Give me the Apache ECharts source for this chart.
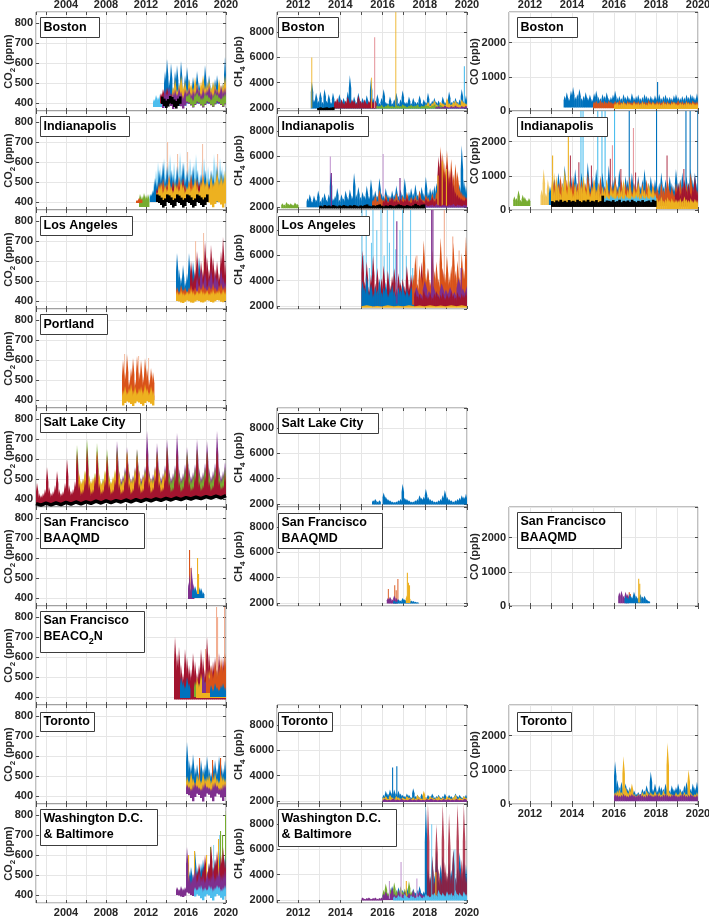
<!DOCTYPE html>
<html><head><meta charset="utf-8">
<script src="https://cdn.jsdelivr.net/npm/echarts@6/dist/echarts.min.js"></script>
<style>html,body{margin:0;padding:0;background:#fff}#c{width:709px;height:916px}</style>
</head><body><div id="c"></div><script>
// ================= DATA =================
// each band: t0 = first year, dt = step (yr), hi = peak values, lo = lower values (step ldt), sp = single spikes [year, value]
// ---- CO2 (ppm) ----
const bos_co2_L  = {t0:2012.7, dt:0.2, lo:[380], hi:[420,440,430,445,435,430]};
const bos_co2_B  = {t0:2013.8, dt:0.2, lo:[398], hi:[560,620,520,600,480,560,590,500,610,470,540,580,520,470,530,490,560,500,470,520,590,510,540,480,500,520,540,490,470,500,630]};
const bos_co2_L2 = {t0:2015.2, dt:0.2, lo:[385], hi:[440,455,430,445]};
const bos_co2_R  = {t0:2013.4, dt:0.2, lo:[398], hi:[450,470,440,480,460,450,430]};
const bos_co2_Y  = {t0:2014.6, dt:0.2, lo:[410], hi:[480,520,470,500,540,490,510,470,520,500,480,530,500,470,510,540,490,500,520,480,510,500,470,520,490,500,540]};
const bos_co2_P  = {t0:2013.6, dt:0.2, ldt:0.2, lo:[375,388,400,396,385,370,386,398,395,384,372,388,400,396,388,378,390,400,397,388,378,390,401,397,389,380,392,402,398,390,380,393], hi:[440,470,450,480,440,460,470,450,480,460,440,470,460,480,450,470,460,490,470,450,480,460,470,490,460,450,480,470,460,490,470,480]};
const bos_co2_G  = {t0:2016.0, dt:0.2, ldt:0.2, lo:[408,402,392,380,395,408,403,392,382,396,409,404,393,382,397,410,405,394,384,398], hi:[440,450,430,420,445,455,440,425,430,450,445,430,420,440,455,445,430,425,440,450]};
const bos_co2_K  = {t0:2013.5, dt:0.2, ldt:0.2, lo:[395,385,375,382,398,394,380,372,385,396], hi:[432,422,412,420,435,430,418,410,422,433]};

const ind_co2_O1 = {t0:2011.0, dt:0.2, lo:[395], hi:[410,420,415]};
const ind_co2_G  = {t0:2011.3, dt:0.2, lo:[375], hi:[440,430,445,435,440]};
const ind_co2_L  = {t0:2012.3, dt:0.2, lo:[400], hi:[440,450,500,560,600,580,560,620,540,600,640,560,600,520,580,650,560,600,540,580,620,560,600,640,560,540,600,620,560,580,520,560,640,600,560,620,580,560,600]};
const ind_co2_B  = {t0:2012.4, dt:0.2, lo:[400], hi:[440,460,520,500,560,540,600,520,580,500,560,540,520,580,500,540,600,520,560,500,540,580,520,560,500,540,520,560,500,520,560,540,500,580,520,560,540,500,560]};
const ind_co2_O  = {t0:2013.0, dt:0.2, lo:[405], hi:[460,500,480,520,470,500,540,480,510,470,500,530,480,520,490,470,510,540,490,500,520,480,510,540,490,500,470,520,490,500,540,480,510,490,520]};
const ind_co2_R  = {t0:2013.0, dt:0.2, lo:[405], hi:[470,440,500,460,430,480,450,470,500,460,440,480,460,520,470,450,490,460,480,450,470,500,460,480,450,470,490,460,480,450,500,470,460,490,470]};
const ind_co2_Y  = {t0:2013.0, dt:0.2, lo:[410], hi:[450,480,500,460,490,470,520,480,460,500,480,470,510,490,460,480,500,470,490,520,480,460,500,530,500,520,480,540,500,520,560,500,540,520,560]};
const ind_co2_Y2 = {t0:2017.8, dt:0.2, ldt:0.2, lo:[392,402,398,386,374,390,403,399,387,372,392], hi:[460,480,470,500,480,470,490,510,480,470,500]};
const ind_co2_K  = {t0:2013.0, dt:0.2, ldt:0.2, lo:[400,395,385,372,380,400,395,385,372,380,400,395,385,372,380,400,395,385,372,380,400,395,385,375,385,400], hi:[438,432,422,410,418,438,433,423,410,418,438,432,422,411,419,438,433,423,410,418,438,432,423,413,423,438]};
const ind_co2_pale = {lo:[430], sp:[[2014.1,700],[2015.1,640],[2016.1,650],[2017.6,690],[2019.1,640]]};

const la_co2_B = {t0:2015.0, dt:0.2, lo:[405], hi:[640,560,520,580,500,540,640,560,600,540,520,620,560]};
const la_co2_R = {t0:2016.4, dt:0.2, lo:[420], hi:[600,520,560,650,540,600,560,700,620,560,680,620,560,600,540,650,720,600]};
const la_co2_P = {t0:2017.0, dt:0.2, lo:[430], hi:[520,480,560,500,540,480,520,560,500,540,520,480,560,520,500]};
const la_co2_O = {t0:2015.0, dt:0.2, lo:[415], hi:[470,450,480,460,470,450,470,480,460,470,450,480,470,490,470,460,480,470,490,470,460,480,490,470,480]};
const la_co2_Y = {t0:2015.0, dt:0.2, ldt:0.2, lo:[400,398,392,390,396,402,399,393,391,397,403,400,394,392,398,404,401,395,393,399,405,402,396,394,400], hi:[450,440,455,445,440,450,445,460,450,440,455,445,460,450,445,455,440,450,460,445,450,455,445,460,450]};
const la_co2_pale = {lo:[450], sp:[[2017.7,740],[2016.9,700]]};

const por_co2_O = {t0:2009.6, dt:0.2, lo:[400], hi:[600,540,630,500,560,610,500,620,540,600,520,610,560,500,560,540]};
const por_co2_Y = {t0:2009.6, dt:0.2, ldt:0.2, lo:[372,385,392,388,380,370,384,393,388,380,371,385,394,389,381,372], hi:[450,470,440,460,480,450,470,440,460,470,450,480,460,440,470,450]};
const por_co2_pale = {lo:[450], sp:[[2009.8,630],[2011.2,620],[2012.2,610]]};

const slc_co2_P = {t0:2009.0, dt:0.2, lo:[430], hi:[690,540,500,520,560, 660,540,500,520,560, 650,545,505,525,565, 740,545,505,525,565, 680,550,510,530,570, 700,550,510,530,570, 730,550,510,530,575, 660,555,515,535,575, 700,555,515,535,580, 690,555,515,540,580, 740,560,520,540,585]};
const slc_co2_G = {t0:2005.0, dt:0.2, lo:[420], hi:[670,520,480,500,540, 700,520,480,500,530, 680,520,480,505,540, 650,520,485,505,540, 660,525,485,505,545, 640,525,485,510,545, 650,525,490,510,550, 620,525,490,510,550, 640,530,490,515,550, 660,530,495,515,555, 620,530,495,515,555, 640,530,495,520,560, 650,535,500,520,560, 640,535,500,520,560, 630,535,500,525,560]};
const slc_co2_Y = {t0:2005.0, dt:0.2, lo:[420], hi:[600,530,490,505,545, 620,515,495,510,530, 640,530,485,500,545, 600,510,490,515,550, 620,535,480,500,535, 640,515,500,505,555, 620,540,480,515,540, 600,520,505,500,560, 620,535,485,520,545]};
const slc_co2_R = {t0:2001.0, dt:0.2, ldt:1, lo:[372,373,376,378,379,382,385,386,388,390,392,394,397,398,400,403,404,406,409], hi:[480,430,420,430,450, 560,460,430,440,470, 540,450,430,440,480, 600,470,440,450,490, 640,480,440,450,500, 660,480,440,450,510, 640,480,440,450,500, 620,480,440,450,500, 640,480,440,450,510, 630,480,440,455,510, 620,480,445,455,520, 650,490,445,460,520, 640,490,450,460,520, 660,490,450,460,520, 650,490,450,465,520, 620,490,455,465,520, 650,490,455,470,520, 640,490,455,470,525, 660,495,460,470,530]};
const slc_co2_K = [377,369,379,371,380,372,383,374,385,376,386,378,389,380,391,382,392,385,395,386,397,388,398,391,401,393,403,395,405,397,407,400,409,402,412,404,414,406,417];

const sfb_co2_P = {t0:2016.2, dt:0.1, lo:[395], hi:[480,520,450,560,500,470]};
const sfb_co2_O = {lo:[420], sp:[[2016.3,640],[2016.45,550]]};
const sfb_co2_B = {t0:2016.6, dt:0.2, lo:[400], hi:[450,460,440,455,450,430]};
const sfb_co2_Y = {lo:[420], sp:[[2017.1,600],[2017.2,520]]};

const sfc_co2_R  = {t0:2014.8, dt:0.2, lo:[388], hi:[700,620,650,560,520,640,600,560,540,620,580,520,560,640,600,540,700,620,560,580,600,540,620,560,600,580]};
const sfc_co2_B  = {t0:2015.4, dt:0.2, lo:[395], hi:[500,480,460,500,470]};
const sfc_co2_B2 = {t0:2018.4, dt:0.2, lo:[400], hi:[460,440,470,450,440,460,470,450]};
const sfc_co2_G  = {t0:2016.8, dt:0.2, lo:[400], hi:[480,460,470,500,470,480,460,500,470,480,510,470,480,500,470,480]};
const sfc_co2_Y  = {t0:2017.0, dt:0.2, lo:[395], hi:[500,470,520,490,460,520,540,490,470,500,530,480,510,540,500]};
const sfc_co2_P  = {t0:2017.6, dt:0.2, lo:[420], hi:[520,480,540,500,530,480,540,510,560,500,530,550]};
const sfc_co2_O  = {t0:2018.0, dt:0.2, lo:[420], hi:[540,500,560,520,580,530,560,600,560,620]};
const sfc_co2_pale = {lo:[450], sp:[[2019.0,850],[2019.1,800],[2019.8,850],[2017.9,640]]};

const tor_co2_B = {t0:2016.0, dt:0.2, lo:[420], hi:[670,580,560,610,540,560,520,580,540,560,600,540,520,560,580,540,600,560,540,580]};
const tor_co2_O = {lo:[440], sp:[[2017.3,590],[2018.6,580],[2019.4,590]]};
const tor_co2_Y = {t0:2016.0, dt:0.2, lo:[420], hi:[500,480,520,490,470,510,500,480,520,490,500,510,480,500,520,490,480,510,500,490]};
const tor_co2_P = {t0:2016.0, dt:0.2, ldt:0.2, lo:[410,404,390,374,395,411,405,390,372,396,412,406,391,374,397,413,407,392,375,398], hi:[460,450,440,460,470,455,445,440,460,470,450,445,440,465,470,455,440,445,460,465]};

const was_co2_B = {t0:2016.0, dt:0.2, lo:[420], hi:[560,520,540,500,620,540,520,560,580,540,520,560,600,540,580,560,620,560,540,600]};
const was_co2_R = {t0:2017.0, dt:0.2, lo:[440], hi:[520,560,500,540,600,520,560,650,540,580,620,560,600,640,580]};
const was_co2_P = {t0:2015.0, dt:0.2, ldt:0.2, lo:[400,398,392,390,396,412,408,400,395,404,414,409,401,396,405,415,410,402,397,406,416,411,403,398,407], hi:[440,430,445,435,440,640,500,480,510,540,480,520,490,500,480,520,490,500,530,490,510,540,500,510,530]};
const was_co2_G = {lo:[450], sp:[[2016.0,560],[2018.4,640],[2019.4,720],[2019.6,700],[2019.9,800],[2019.98,820]]};
const was_co2_Y = {lo:[450], sp:[[2016.2,600],[2016.8,620],[2018.0,600],[2019.2,680]]};
const was_co2_L = {t0:2016.8, dt:0.2, ldt:0.2, lo:[392,402,396,384,374,392,403,397,385,373,393,404,398,386,376,394], hi:[440,430,445,450,435,440,430,450,445,435,440,450,445,430,440,450]};
const was_co2_Lp = {lo:[450], sp:[[2019.3,700],[2018.7,650]]};

// ---- CH4 (ppb) ----
const bos_ch4_B = {t0:2012.6, dt:0.1, lo:[1950], hi:[4100,2700,3200,2600,3300,2500,3500,2600,3100,2500, 3200,2600,2500,3100,2600,2800,2400,3300,4600,2600, 2900,2500,3200,2500,2800,2400,3000,2500,4300,2800, 2600,3100,2400,2800,3500,2500,2400,2900,2400,2700, 3200,2400,2700,3400,2500,2500,2900,2400,2800,2500, 2500,3000,2400,2700,2500,3200,2400,2600,2800,2500, 2600,2400,2900,2500,2700,3300,2500,2600,2800,2500, 2700,3500,2600,3000]};
const bos_ch4_Ls = {lo:[2000], sp:[[2019.85,5300]]};
const bos_ch4_R = {t0:2013.7, dt:0.1, lo:[1950], hi:[2600,2800,2500,2700,2400,2600,2900,2500,2700,2600,2400,3000,2600,2500,2700,2400,2600,2800,2500,2600]};
const bos_ch4_Ys = {lo:[2000], sp:[[2012.62,6000],[2015.45,4400],[2016.6,9600]]};
const bos_ch4_pk = {lo:[2000], sp:[[2015.6,7600]]};
const bos_ch4_Y = {t0:2018.0, dt:0.1, lo:[2000], hi:[2300,2500,2200,2400,2600,2300,2200,2500,2400,2300,2800,2400,2300,2500,2600,2400,2300,2700,2500,2400]};
const bos_ch4_G = {t0:2015.7, dt:0.1, lo:[1950], hi:[2200,2150,2250,2100,2200,2300,2150,2200,2100,2250,2200,2150,2300,2200,2100,2200,2250,2150,2200,2300,2100,2200,2150,2250,2200,2100,2200,2300,2150,2200,2250,2100,2200]};
const bos_ch4_P = {t0:2018.5, dt:0.1, lo:[1950], hi:[2100,2150,2050,2100,2200,2100,2050,2150,2100,2200,2100,2050,2150,2100,2200]};
const bos_ch4_K = {t0:2012.9, dt:0.1, lo:[1830], hi:[2000,2050,2000,2020,2050,2000,2030,2050]};

const ind_ch4_G = {t0:2011.2, dt:0.1, lo:[1900], hi:[2300,2200,2400,2250,2300,2200,2350,2250]};
const ind_ch4_B = {t0:2012.4, dt:0.1, lo:[1980], hi:[2700,3000,2500,2900,2600,3300,2500,2800,3100,2600, 3000,4700,2700,2900,3500,2600,3000,2700,3300,2800, 3400,2900,4700,3000,3600,2800,3200,2900,3700,2900, 4200,3000,3300,2900,4300,3100,2900,3500,3000,2900, 3300,3000,3700,2900,3400,3000,4300,3000,3200,3500, 3100,3800,3000,3300,3600,3100,4400,3200,3500,3400, 3700,3900,4300,4000,4600,4100,3700,4400,3500,3800, 4100,3500,3800,6900,4200,3700]};
const ind_ch4_Pp = {lo:[2000], sp:[[2013.5,6000],[2016.0,6200]]};
const ind_ch4_Ps = {lo:[2000], sp:[[2013.55,4700],[2016.8,4300],[2018.7,5200]]};
const ind_ch4_O = {t0:2015.5, dt:0.1, lo:[2050], hi:[2600,2900,2500,3400,2700,2600,3000,2500,2800,2600, 2700,3100,2600,2500,2900,2700,3200,2600,2800,2500, 2900,2600,3300,2700,2600,3000,2800,2600,3100,2700, 3200,4200,6800,6300,5500,6500,5000,5800,4600,5400, 4800,3500,3200,3000,2800]};
const ind_ch4_R = {t0:2016.0, dt:0.1, lo:[2050], hi:[2500,2700,2400,2600,2800,2500,2600,2400,2700,2500, 2600,2800,2500,2400,2700,2600,2500,2800,2600,2400, 2700,2500,2600,2800,2500,2700,6000,6400,5200,4800, 5600,4400,5000,3800,3200,3000,2800,2700,2600,2800]};
const ind_ch4_Ys = {lo:[2100], sp:[[2018.8,5600],[2019.0,5000],[2018.6,4500]]};
const ind_ch4_P = {t0:2018.0, dt:0.1, lo:[1950], hi:[2200,2100,2150,2200,2100,2250,2150,2100,2200,2150,2100,2200,2150,2250,2100,2200,2150,2100,2200,2150]};
const ind_ch4_K = {t0:2013.0, dt:0.1, lo:[1880], hi:[2100,2050,2150,2080,2120,2060,2150,2100,2050,2120, 2080,2150,2100,2060,2130,2090,2150,2100,2050,2120, 2080,2150,2200,2100,2060,2130,2090,2150,2200,2100, 2050,2120,2080,2150,2100,2060,2130,2200,2150,2100, 2080,2150,2100,2060,2130,2250,2150,2100,2180,2200]};

const la_ch4_Lp = {lo:[2000], sp:[[2015.0,9600],[2015.08,6000],[2015.2,9600],[2015.35,5000],[2015.45,7000],[2015.52,9600],[2015.7,8000],[2015.9,9600],[2016.05,6000],[2016.2,9600],[2016.3,7000],[2016.5,9600],[2016.6,6500],[2016.8,8000],[2016.92,9600],[2017.1,6000],[2017.3,9600],[2017.4,5000]]};
const la_ch4_R = {t0:2015.0, dt:0.1, lo:[1950], hi:[6400,4000,5500,3500,4500,6000,3800,5000,3600,4200, 5200,3500,4800,3700,4400,5000,3400,4600,3900,4200, 3600,5200,3800,4500,3500,4800,3700,4000,5500,3600, 4200,5000,3800,4400,3500,4700,3900,4200,5000,3700, 4600,3800,4100,5300,3600,4400,3900,5000,4200,6000]};
const la_ch4_B = {t0:2015.0, dt:0.1, lo:[1950], hi:[4000,3500,4500,3200,3800,3000,3600,3300,4200,3100, 3500,3900,3000,3400,3700,3200,3000,3500,3300,3800, 3100,3400,3000,3600,3200]};
const la_ch4_O = {t0:2017.4, dt:0.1, lo:[2100], hi:[4500,6000,3800,5200,4400,7200,4600,5000,4000,6500, 4800,5500,4200,7400,5000,4600,6000,4400,5200,7000, 4800,5600,4300,6200,5000,7500]};
const la_ch4_Op = {lo:[2200], sp:[[2018.9,9600],[2019.3,7500],[2019.6,6400],[2017.6,6000]]};
const la_ch4_Ps = {lo:[2200], sp:[[2018.3,9600],[2018.36,9600],[2016.65,8700],[2019.7,5000]]};
const la_ch4_P = {t0:2017.5, dt:0.2, lo:[2100], hi:[3500,3000,4000,3200,3600,3000,3800,3300,3500,3100,4200,3400,3600]};
const la_ch4_R2 = {t0:2017.5, dt:0.1, lo:[1950], hi:[3200,2800,3000,2700,3300,2900,2800,3100,2700,3000, 3200,2800,2900,3100,2700,3000,2800,3200,2900,2700, 3100,2800,3000,2900,3200]};
const la_ch4_Y = {t0:2015.0, dt:0.5, lo:[1850], hi:[2050,2000,2050,2020,2050,2030,2050,2040,2060,2050]};

const slc_ch4_B1 = {t0:2015.5, dt:0.1, lo:[1950], hi:[2300,2400,2200,2300]};
const slc_ch4_B2 = {t0:2016.0, dt:0.1, lo:[1950], hi:[2900,2600,2400,2300,2200,2150,2200,2300,2400,3600, 2500,2400,2300,2200,2200,2300,2400,2700,2500,2600, 3200,2600,2400,2300,2200,2200,2300,2400,2700,3100, 2600,2400,2300,2200,2300,2400,2500,2700,2600,2800]};

const sfb_ch4_P = {t0:2016.2, dt:0.1, lo:[1950], hi:[2400,2500,2300,2600,2400]};
const sfb_ch4_Os = {lo:[2000], sp:[[2016.25,3100],[2016.55,3400],[2016.62,3000],[2016.7,3900]]};
const sfb_ch4_B = {t0:2016.5, dt:0.1, lo:[1950], hi:[2200,2100,2300,2200,2400,2300,2200,2100,2200,2150,2100,2050]};
const sfb_ch4_Y = {t0:2017.1, dt:0.1, lo:[2000], hi:[2600,2500], sp:[[2017.15,4400],[2017.2,3600],[2017.25,3400]]};

const tor_ch4_B = {t0:2016.0, dt:0.1, lo:[1980], hi:[2500,2800,2600,2900,2700,2900,2600,2800,2600,2500, 2400,2600,2500,2300,3000,2400,2500,2300,2600,2400, 2300,2500,2400,2600,2300,2400,2500,2300,2400,2600, 2300,2500,2400,2300,2600,2400,2500,2300,2400,2500], sp:[[2016.45,4650],[2016.65,4750]]};
const tor_ch4_Y = {t0:2016.0, dt:0.1, lo:[2000], hi:[2300,2400,2200,2500,2300,2200,2400,2300,2200,2300, 2200,2400,2300,2200,2300,2200,2500,2300,2200,2800, 2300,2200,2400,2300,2200,2300,2400,2200,2300,2200, 2400,2300,2200,2300,2500,2200,2300,2200,2400,2300]};
const tor_ch4_P = {t0:2016.0, dt:0.2, lo:[1920], hi:[2150,2100,2180,2120,2150,2100,2160,2120,2140,2100,2150,2180,2120,2100,2160,2140,2120,2150,2100,2180]};

const was_ch4_Pe = {t0:2015.0, dt:0.1, lo:[1950], hi:[2200,2100,2150,2200,2100,2150,2200,2100,2150,2200]};
const was_ch4_B = {t0:2016.0, dt:0.1, lo:[2050], hi:[2600,2900,2500,2800,3100,2600,2700,3000,2500,2800, 2600,3000,2700,2500,2900,2600,2800,3100,2600,2700, 9600,4500,3800,5200,4000,6000,3600,4800,5500,4200, 3900,5000,4400,6000,3800,4600,5800,4200,5200,4800]};
const was_ch4_R = {t0:2018.1, dt:0.1, lo:[2100], hi:[9600,4000,5500,3500,8000,4500,3800,9600,5000,4200, 8800,4000,6000,3800,9600,4500,5200,9600,4000]};
const was_ch4_G = {t0:2016.0, dt:0.1, lo:[2000], hi:[2800,3300,2600,3000,2700,3400,2800,2600,3100,2700,2900,2600,3500,2700,2800]};
const was_ch4_P = {t0:2016.0, dt:0.1, lo:[2000], hi:[2500,2700,2400,2600,3000,2500,2400,2800,2600,2500, 2700,2400,2600,2500,2800,2400,2600,2700,2500,2400]};
const was_ch4_Ps = {lo:[2100], sp:[[2016.3,3500],[2016.85,5000],[2017.6,3700]]};
const was_ch4_L = {t0:2016.5, dt:0.1, lo:[1950], hi:[2300,2200,2400,2300,2200,2500,2300,2200,2400,2300, 2200,2300,2400,2200,2300,2500,2400,2300,2500,2600, 2400,2800,2500,2600,2400,2700,2500,2600,2400,2800, 2500,2600,2400,2700,2500]};
const was_ch4_Ls = {lo:[2100], sp:[[2018.3,8000],[2019.4,6000]]};
const was_ch4_Ys = {lo:[2100], sp:[[2017.1,3500],[2018.5,4200]]};

// ---- CO (ppb) ----
const bos_co_B = {t0:2013.6, dt:0.1, lo:[100], hi:[450,550,380,600,700,420,500,650,380,450, 560,400,480,350,520,600,420,380,500,450, 550,380,420,480,600,400,450,380,500,420, 460,380,520,400,440,480,380,420,500,450, 400,450,380,460,420,500,380,440,480,400, 420,380,460,500,420,380,440,400,480,420, 500,460,400,520], sp:[[2018.05,850]]};
const bos_co_O = {t0:2015.0, dt:0.1, lo:[80], hi:[280,300,250,320,270,300,260,310,280,250, 300,270,320,260,290,250,300,280,260,310, 270,290,250,300,280,260,320,270,290,250, 300,280,260,310,270,290,250,300,280,260, 320,270,290,250,300,280,260,310,270,290]};
const bos_co_Y = {t0:2016.0, dt:0.1, lo:[60], hi:[220,260,200,240,280,210,250,230,200,260, 220,240,210,270,230,200,250,220,260,210, 240,230,200,260,220,250,210,240,270,220, 200,250,230,210,260,240,220,250,210,230]};

const ind_co_G = {t0:2011.2, dt:0.1, lo:[120], hi:[400,350,580,300,450,380,300,350]};
const ind_co_Y1 = {t0:2012.5, dt:0.1, lo:[150], hi:[600,1200,500,900,400,700,1100,500]};
const ind_co_Ls = {lo:[200], sp:[[2014.4,2900],[2014.5,2900],[2015.2,2900],[2015.4,2900],[2015.55,2900],[2016.0,2900]]};
const ind_co_Bs = {lo:[200], sp:[[2016.7,2900],[2018.0,2900],[2019.4,2900],[2019.6,2900],[2019.97,2900]]};
const ind_co_pk = {lo:[200], sp:[[2016.9,2400],[2015.9,1900]]};
const ind_co_B = {t0:2012.9, dt:0.1, lo:[150], hi:[700,500,900,600,1100,700,800,1300,600,900, 1000,700,1200,800,600,1100,900,700,1400,800, 1000,700,1200,600,900,1100,700,800,1300,600, 900,1000,700,1200,800,600,1000,900,700,1100, 800,600,1000,700,900,1200,600,800,1000,700, 900,600,800,1100,700,900,600,1000,800,700, 1200,800,900,1100,700,1000,800,1200,900,1100, 800]};
const ind_co_O = {t0:2013.0, dt:0.1, lo:[120], hi:[600,900,500,800,1000,600,700,900,500,800, 1000,600,800,700,900,500,800,1100,600,700, 900,600,800,1000,500,700,900,600,800,700, 1000,600,700,900,500,800,700,1000,600,800, 700,900,500,800,600,900,700,500,800,600, 700,500,800,600,700,900,600,700,500,800, 600,900,700,500,800,600,1100,700,800,600]};
const ind_co_Y = {t0:2013.0, dt:0.1, lo:[100], hi:[900,600,1000,700,500,800,1200,600,900,700, 500,800,600,900,700,1000,600,800,500,700, 900,600,800,500,700,600,900,500,700,600, 800,500,700,600,900,500,600,800,500,700, 600,800,500,700,600,500,800,600,700,500], sp:[[2013.8,2300],[2013.05,1600]]};
const ind_co_Rs = {lo:[150], sp:[[2013.9,1600],[2014.3,1400],[2014.9,1300],[2015.8,1500],[2016.3,1200],[2017.0,1100],[2018.5,1600],[2019.3,1200]]};
const ind_co_L = {t0:2015.5, dt:0.1, lo:[150], hi:[380,420,350,450,400,360,430,380,410,350, 440,390,360,420,380,450,400,360,430,380, 410,360,420,390,450]};
const ind_co_Y2 = {t0:2018.0, dt:0.1, lo:[30], hi:[350,300,400,280,320,380,300,350,280,320, 300,350,280,400,320,300,350,280,330,300]};
const ind_co_R2 = {t0:2018.9, dt:0.1, lo:[100], hi:[600,800,500,700,900,600,800,500,700,1000,600]};
const ind_co_K = {t0:2013.0, dt:0.1, lo:[90], hi:[260,230,280,250,300,240,270,230,290,250, 270,240,300,260,230,280,250,300,240,270, 250,290,230,260,420,240,280,270,250,290, 240,260,300,230,270,250,280,240,300,260, 230,270,250,290,240,260,280,230,300,270]};

const sfb_co_P = {t0:2016.2, dt:0.1, lo:[80], hi:[400,450,300,420,350]};
const sfb_co_O = {lo:[100], sp:[[2016.7,400],[2016.75,350]]};
const sfb_co_B = {t0:2016.5, dt:0.1, lo:[80], hi:[300,250,350,280,420,300,260,350,280,300,200,150]};
const sfb_co_Y = {lo:[100], sp:[[2017.15,800],[2017.2,650]]};

const tor_co_B = {t0:2016.0, dt:0.1, lo:[150], hi:[1250,700,500,650,400,600,450,500,350,400, 300,350,300,450,400,550,380,950,450,600, 400,550,500,450,600,500,400,550,450,500, 600,450,400,550,650,500,450,600,500,650]};
const tor_co_Y = {t0:2016.0, dt:0.1, lo:[120], hi:[350,400,450,350,1400,500,350,450,600,300, 250,300,280,350,300,400,320,350,300,380, 300,350,280,400,300,1800,350,300,280,350, 300,380,280,350,300,1000,350,280,300,350]};
const tor_co_P = {t0:2016.0, dt:0.1, lo:[80], hi:[300,280,250,270,300,260,240,280,300,270, 250,280,300,260,240,270,300,280,250,270, 300,260,240,280,300,270,250,280,300,260, 240,270,300,280,250,270,300,260,240,280]};

// ---- tick labels / axes ----
const X_RANGE = [[2001, 2020], [2011, 2020], [2011, 2020]];
const X_LABEL_STEP = [4, 2, 2];
const Y_RANGE = {co2:[360, 855], ch4:[1760, 9600], co:[0, 2900]};
const Y_SPLIT = {co2:5, ch4:4, co:3};
const Y_NAME = {co2:'{a|CO}{s|2}{a| (ppm)}', ch4:'{a|CH}{s|4}{a| (ppb)}', co:'{a|CO (ppb)}'};

// ================= LAYOUT / STYLE =================
const C = {B:'#0072BD',O:'#D95319',Y:'#EDB120',P:'#7E2F8E',G:'#77AC30',L:'#4DBEEE',R:'#A2142F',K:'#000000',pk:'#E79AA0',pp:'#C49AD2',po:'#F2AE92',pl:'#F4C2A8'};
const FONT = '"Liberation Sans", Arial, Helvetica, sans-serif';
const COLS = [{left:36,width:190,gap:19},{left:277,width:190,gap:30},{left:509,width:189,gap:26}];
const ROW_TOP = r => 12 + 99*r, ROW_H = 99;
const LAST_ROW = [8, 8, 7];
const SHOULDER = 0.6;

const PANELS = [
 {c:0,r:0,g:'co2',t:['Boston'],box:[40,17,99,37], ly:[[bos_co2_B,'B'],[bos_co2_L,'L'],[bos_co2_L2,'L'],[bos_co2_R,'R'],[bos_co2_Y,'Y'],[bos_co2_P,'P'],[bos_co2_G,'G'],[bos_co2_K,'K']]},
 {c:0,r:1,g:'co2',t:['Indianapolis'],box:[40,116,129,136], ly:[[ind_co2_L,'L',0.6],[ind_co2_pale,'pl'],[ind_co2_B,'B'],[ind_co2_O,'O'],[ind_co2_R,'R'],[ind_co2_Y,'Y'],[ind_co2_G,'G'],[ind_co2_O1,'O'],[ind_co2_Y2,'Y'],[ind_co2_K,'K']]},
 {c:0,r:2,g:'co2',t:['Los Angeles'],box:[40,216,132,235], ly:[[la_co2_pale,'pl'],[la_co2_B,'B'],[la_co2_R,'R'],[la_co2_P,'P'],[la_co2_O,'O'],[la_co2_Y,'Y']]},
 {c:0,r:3,g:'co2',t:['Portland'],box:[40,314,107,334], ly:[[por_co2_pale,'pl'],[por_co2_O,'O'],[por_co2_Y,'Y']]},
 {c:0,r:4,g:'co2',t:['Salt Lake City'],box:[40,413,140,432], ly:[[slc_co2_P,'P'],[slc_co2_G,'G'],[slc_co2_Y,'Y'],[slc_co2_R,'R']], line:[slc_co2_K, 2001.0, 0.5]},
 {c:0,r:5,g:'co2',t:['San Francisco','BAAQMD'],box:[40,513,144,548], ly:[[sfb_co2_O,'O'],[sfb_co2_P,'P'],[sfb_co2_B,'B'],[sfb_co2_Y,'Y']]},
 {c:0,r:6,g:'co2',t:['San Francisco','{a|BEACO}{s|2}{a|N}'],box:[40,611,144,652], ly:[[sfc_co2_pale,'po'],[sfc_co2_R,'R'],[sfc_co2_B,'B'],[sfc_co2_G,'G'],[sfc_co2_Y,'Y'],[sfc_co2_P,'P'],[sfc_co2_O,'O'],[sfc_co2_B2,'B']]},
 {c:0,r:7,g:'co2',t:['Toronto'],box:[40,712,94,731], ly:[[tor_co2_B,'B'],[tor_co2_O,'O'],[tor_co2_Y,'Y'],[tor_co2_P,'P']]},
 {c:0,r:8,g:'co2',t:['Washington D.C.','& Baltimore'],box:[40,809,157,845], ly:[[was_co2_Lp,'L',0.6],[was_co2_G,'G'],[was_co2_B,'B'],[was_co2_R,'R'],[was_co2_Y,'Y'],[was_co2_P,'P'],[was_co2_L,'L']]},

 {c:1,r:0,g:'ch4',t:['Boston'],box:[278,17,338,37], ly:[[bos_ch4_B,'B'],[bos_ch4_Ls,'L'],[bos_ch4_R,'R'],[bos_ch4_Ys,'Y',0.8],[bos_ch4_pk,'pk'],[bos_ch4_Y,'Y'],[bos_ch4_G,'G'],[bos_ch4_P,'P'],[bos_ch4_K,'K']]},
 {c:1,r:1,g:'ch4',t:['Indianapolis'],box:[278,116,368,136], ly:[[ind_ch4_Pp,'pp'],[ind_ch4_B,'B'],[ind_ch4_Ps,'P'],[ind_ch4_O,'O'],[ind_ch4_R,'R'],[ind_ch4_Ys,'Y'],[ind_ch4_G,'G'],[ind_ch4_P,'P'],[ind_ch4_K,'K']]},
 {c:1,r:2,g:'ch4',t:['Los Angeles'],box:[278,216,369,235], ly:[[la_ch4_Lp,'L',0.8],[la_ch4_R,'R'],[la_ch4_B,'B'],[la_ch4_Op,'po'],[la_ch4_O,'O'],[la_ch4_Ps,'P'],[la_ch4_P,'P'],[la_ch4_R2,'R'],[la_ch4_Y,'Y']]},
 {c:1,r:4,g:'ch4',t:['Salt Lake City'],box:[278,413,378,433], ly:[[slc_ch4_B1,'B'],[slc_ch4_B2,'B']]},
 {c:1,r:5,g:'ch4',t:['San Francisco','BAAQMD'],box:[278,513,382,548], ly:[[sfb_ch4_Os,'O',0.85],[sfb_ch4_P,'P'],[sfb_ch4_B,'B'],[sfb_ch4_Y,'Y']]},
 {c:1,r:7,g:'ch4',t:['Toronto'],box:[278,712,332,731], ly:[[tor_ch4_B,'B'],[tor_ch4_Y,'Y'],[tor_ch4_P,'P']]},
 {c:1,r:8,g:'ch4',t:['Washington D.C.','& Baltimore'],box:[278,809,396,846], ly:[[was_ch4_B,'B'],[was_ch4_R,'R',0.8],[was_ch4_Ls,'L',0.7],[was_ch4_G,'G'],[was_ch4_Pe,'P'],[was_ch4_P,'P'],[was_ch4_Ps,'pp'],[was_ch4_Ys,'Y'],[was_ch4_L,'L']]},

 {c:2,r:0,g:'co',t:['Boston'],box:[517,17,577,37], ly:[[bos_co_B,'B'],[bos_co_O,'O'],[bos_co_Y,'Y']]},
 {c:2,r:1,g:'co',t:['Indianapolis'],box:[517,117,607,136], ly:[[ind_co_Ls,'L'],[ind_co_Bs,'B'],[ind_co_pk,'pk'],[ind_co_Y1,'Y',0.7],[ind_co_B,'B'],[ind_co_Rs,'R',0.8],[ind_co_O,'O'],[ind_co_Y,'Y'],[ind_co_G,'G'],[ind_co_L,'L'],[ind_co_R2,'R'],[ind_co_Y2,'Y'],[ind_co_K,'K']]},
 {c:2,r:5,g:'co',t:['San Francisco','BAAQMD'],box:[517,512,621,548], ly:[[sfb_co_P,'P'],[sfb_co_O,'O'],[sfb_co_B,'B'],[sfb_co_Y,'Y']]},
 {c:2,r:7,g:'co',t:['Toronto'],box:[517,712,571,731], ly:[[tor_co_B,'B'],[tor_co_Y,'Y'],[tor_co_P,'P']]}
];

// ================= BUILD =================
function items(s){
  const ldt = s.ldt || 0.5, out = [];
  const loAt = t => {
    if (s.t0 == null) return s.lo[0];
    let k = Math.floor((t - s.t0)/ldt + 1e-6);
    k = Math.max(0, Math.min(s.lo.length-1, k));
    return s.lo[k];
  };
  (s.hi||[]).forEach((v,i)=>{ const t = s.t0 + i*s.dt; out.push([t, loAt(t), v, s.dt]); });
  (s.sp||[]).forEach(p=>{ out.push([p[0], loAt(p[0]), p[1], 0]); });
  return out;
}
function renderBand(color, op, solid){
  return function(params, api){
    const t = api.value(0), lo = api.value(1), hi = api.value(2), w = api.value(3);
    const cs = params.coordSys;
    const clampX = x => Math.max(cs.x, Math.min(cs.x + cs.width, x));
    const clampY = y => Math.max(cs.y, Math.min(cs.y + cs.height, y));
    const a = api.coord([t, hi]), b = api.coord([t + w, lo]);
    const yHi = clampY(a[1]), yLo = clampY(b[1]);
    if (yLo <= yHi) return null;
    if (w <= 0 || solid){
      const x0 = clampX(a[0]), x1 = clampX(w > 0 ? b[0] + 0.6 : a[0] + 1.1);
      if (x1 <= x0) return null;
      return {type:'rect', shape:{x:x0, y:yHi, width:x1-x0, height:yLo-yHi}, style:{fill:color, opacity:op}};
    }
    const yS = clampY(api.coord([t, lo + SHOULDER*(hi - lo)])[1]);
    const x0 = clampX(a[0]), x1 = clampX(b[0] + 0.4), xm = clampX((a[0] + b[0]) / 2);
    if (x1 <= x0) return null;
    return {type:'polygon', shape:{points:[[x0,yLo],[x0,yS],[xm,yHi],[x1,yS],[x1,yLo]]}, style:{fill:color, opacity:op}};
  };
}
const labelStyle = {fontSize:11, fontWeight:'bold', color:'#262626', fontFamily:FONT};
const tick = {show:true, inside:true, length:3, lineStyle:{color:'#4d4d4d', width:1}};
const split = {show:true, lineStyle:{color:'#e6e6e6', width:1}};
const grids = [], xAxes = [], yAxes = [], series = [], graphics = [];

PANELS.forEach((p, gi) => {
  const col = COLS[p.c];
  grids.push({left:col.left, top:ROW_TOP(p.r), width:col.width, height:ROW_H, show:true, borderColor:'#808080', borderWidth:1, containLabel:false, outerBoundsMode:'none'});
  const xr = X_RANGE[p.c], step = X_LABEL_STEP[p.c];
  const fmt = v => (Math.abs(v/step - Math.round(v/step)) < 1e-6) ? String(Math.round(v)) : '';
  xAxes.push({type:'value', gridIndex:gi, position:'bottom', min:xr[0], max:xr[1], splitNumber:9,
    axisLine:{show:false}, axisTick:tick, splitLine:split,
    axisLabel:Object.assign({show:p.r===LAST_ROW[p.c], margin:4, formatter:fmt, showMinLabel:true, showMaxLabel:true}, labelStyle)});
  xAxes.push({type:'value', gridIndex:gi, position:'top', min:xr[0], max:xr[1], splitNumber:9,
    axisLine:{show:false}, axisTick:tick, splitLine:{show:false},
    axisLabel:Object.assign({show:p.r===0, margin:2, formatter:fmt, showMinLabel:true, showMaxLabel:true}, labelStyle)});
  const yr = Y_RANGE[p.g];
  yAxes.push({type:'value', gridIndex:gi, position:'left', min:yr[0], max:yr[1], splitNumber:Y_SPLIT[p.g],
    axisLine:{show:false}, axisTick:tick, splitLine:split,
    axisLabel:Object.assign({margin:3, showMinLabel:p.g==='co', showMaxLabel:false, formatter:v => String(Math.round(v))}, labelStyle),
    name:Y_NAME[p.g], nameLocation:'middle', nameRotate:90, nameGap:col.gap, nameMoveOverlap:false,
    nameTextStyle:{rich:{
      a:{fontSize:11, fontWeight:'bold', fontFamily:FONT, color:'#262626', lineHeight:16, verticalAlign:'middle'},
      s:{fontSize:8, fontWeight:'bold', fontFamily:FONT, color:'#262626', lineHeight:8, verticalAlign:'bottom'}}}});
  yAxes.push({type:'value', gridIndex:gi, position:'right', min:yr[0], max:yr[1], splitNumber:Y_SPLIT[p.g],
    axisLine:{show:false}, axisTick:tick, splitLine:{show:false}, axisLabel:{show:false}});
  p.ly.forEach(l => {
    series.push({type:'custom', xAxisIndex:2*gi, yAxisIndex:2*gi, data:items(l[0]),
      renderItem:renderBand(C[l[1]], l[2] == null ? 1 : l[2], l[1] === 'K'), encode:{x:0, y:2}, silent:true, clip:true});
  });
  if (p.line){
    const [vals, t0, dt] = p.line;
    series.push({type:'line', xAxisIndex:2*gi, yAxisIndex:2*gi, showSymbol:false, symbol:'none', silent:true,
      data: vals.map((v,i)=>[t0 + i*dt, v]), lineStyle:{color:'#000', width:3.5}, z:5});
  }
  // label box
  const [x0,y0,x1,y1] = p.box;
  graphics.push({type:'rect', z:100, shape:{x:x0+0.5, y:y0+0.5, width:x1-x0, height:y1-y0}, style:{fill:'#fff', stroke:'#3c3c3c', lineWidth:1}});
  const lines = p.t;
  const centers = lines.length === 1 ? [(y0+y1)/2 + 0.5] : (p.r===6 && p.c===0 ? [y0+10, y0+26] : [y0+9.5, y0+25.5]);
  lines.forEach((txt, k) => {
    const rich = txt.indexOf('{a|') === 0;
    graphics.push({type:'text', z:101, x:x0+3.5, y:centers[k], style:{
      text: txt, fill:'#000', font:'bold 12.5px ' + FONT, fontSize:12.5, fontWeight:'bold', fontFamily:FONT,
      textVerticalAlign:'middle', verticalAlign:'middle', textAlign:'left', align:'left',
      rich: rich ? {a:{fontSize:12.5, fontWeight:'bold', fontFamily:FONT, fill:'#000', lineHeight:18, verticalAlign:'middle'},
                    s:{fontSize:9, fontWeight:'bold', fontFamily:FONT, fill:'#000', lineHeight:9, verticalAlign:'bottom'}} : undefined}});
  });
});

const chart = echarts.init(document.getElementById('c'), null, {renderer:'canvas'});
chart.setOption({animation:false, backgroundColor:'#fff', grid:grids, xAxis:xAxes, yAxis:yAxes, series:series, graphic:graphics});
</script></body></html>
